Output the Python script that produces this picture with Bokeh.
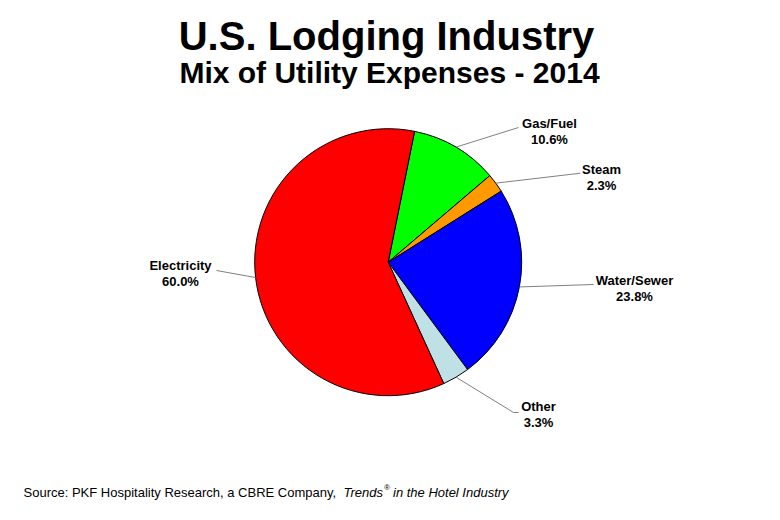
import math
from bokeh.plotting import figure
from bokeh.models import ColumnDataSource, Range1d
from bokeh.core.properties import value
from bokeh.embed import file_html
from bokeh.resources import INLINE

# ---- data ----
categories = ["Gas/Fuel", "Steam", "Water/Sewer", "Other", "Electricity"]
shares = [10.6, 2.3, 23.8, 3.3, 60.0]
colors = ["#00FF00", "#FF9900", "#0000FF", "#BFE1E5", "#FF0000"]
title_text = "U.S. Lodging Industry"
subtitle_text = "Mix of Utility Expenses - 2014"
source_text = "Source: PKF Hospitality Research, a CBRE Company, "
source_italic = "Trends"
source_italic2 = "in the Hotel Industry"

# ---- layout (picture coords -> data coords) ----
W, H = 764, 504
def X(px): return px
def Y(py): return H - py

cx, cy, R = X(387.7), Y(261.7), 133.5
rotation_deg = 11.4  # first slice starts this far clockwise from 12 o'clock

# label anchors (picture coords): centre of two-line label, leader end point
label_pos = {
    "Gas/Fuel": (549, 131, 518, 127),
    "Steam": (601, 176.5, 580, 172.7),
    "Water/Sewer": (634, 287.5, 593, 284),
    "Other": (538, 414, 513, 412),
    "Electricity": (180, 273, 216, 270),
}

total = sum(shares)
starts, ends, mids = [], [], []
cum = 0.0
for s in shares:
    a0 = math.radians(rotation_deg) + 2 * math.pi * cum / total
    cum += s
    a1 = math.radians(rotation_deg) + 2 * math.pi * cum / total
    starts.append(math.pi / 2 - a0)
    ends.append(math.pi / 2 - a1)
    mids.append(math.pi / 2 - (a0 + a1) / 2)

src = ColumnDataSource(dict(cat=categories, share=shares, color=colors,
                            start=starts, end=ends))

p = figure(width=W, height=H, output_backend="svg", toolbar_location=None,
           x_range=Range1d(0, W), y_range=Range1d(0, H), min_border=0)
p.axis.visible = False
p.grid.visible = False
p.outline_line_color = None
p.background_fill_color = "white"
p.border_fill_color = "white"

p.wedge(x=cx, y=cy, radius=R, start_angle="start", end_angle="end",
        direction="clock", fill_color="color", line_color="black",
        line_width=1, source=src)

# leader lines
xs, ys = [], []
for cat, m in zip(categories, mids):
    lx, ly, ex, ey = label_pos[cat]
    sx, sy = cx + R * math.cos(m), cy + R * math.sin(m)
    if cat == "Other":
        xs.append([sx, X(ex), X(ex) + 5]); ys.append([sy, Y(ey), Y(ey)])
    else:
        xs.append([sx, X(ex)]); ys.append([sy, Y(ey)])
p.multi_line(xs=xs, ys=ys, line_color="#808080", line_width=1)

# labels
tx, ty, tt = [], [], []
for cat, s in zip(categories, shares):
    lx, ly, ex, ey = label_pos[cat]
    tx += [X(lx), X(lx)]
    ty += [Y(ly) + 8, Y(ly) - 8]
    tt += [cat, f"{s:.1f}%"]
p.text(x=tx, y=ty, text=tt, text_font=value("Liberation Sans"),
       text_font_size="13px", text_font_style="bold", text_align="center",
       text_baseline="middle", text_color="black")

# titles
p.text(x=[X(386)], y=[Y(35)], text=[title_text], text_font=value("Liberation Sans"),
       text_font_size="40px", text_font_style="bold", text_align="center",
       text_baseline="alphabetic", text_color="black")
p.text(x=[X(389)], y=[Y(72)], text=[subtitle_text], text_font=value("Liberation Sans"),
       text_font_size="30px", text_font_style="bold", text_align="center",
       text_baseline="alphabetic", text_color="black")

# source line
base = 492
p.text(x=[X(23)], y=[Y(base)], text=[source_text], text_font=value("Liberation Sans"),
       text_font_size="13px", text_align="left", text_baseline="alphabetic",
       text_color="black")
p.text(x=[X(343)], y=[Y(base)], text=[source_italic], text_font=value("Liberation Sans"),
       text_font_size="13px", text_font_style="italic", text_align="left",
       text_baseline="alphabetic", text_color="black")
p.text(x=[X(383.5)], y=[Y(base) + 5], text=["®"], text_font=value("Liberation Sans"),
       text_font_size="8px", text_font_style="italic", text_align="left",
       text_baseline="alphabetic", text_color="black")
p.text(x=[X(392.5)], y=[Y(base)], text=[source_italic2], text_font=value("Liberation Sans"),
       text_font_size="13px", text_font_style="italic", text_align="left",
       text_baseline="alphabetic", text_color="black")

open("out.html", "w").write(file_html(p, INLINE))
